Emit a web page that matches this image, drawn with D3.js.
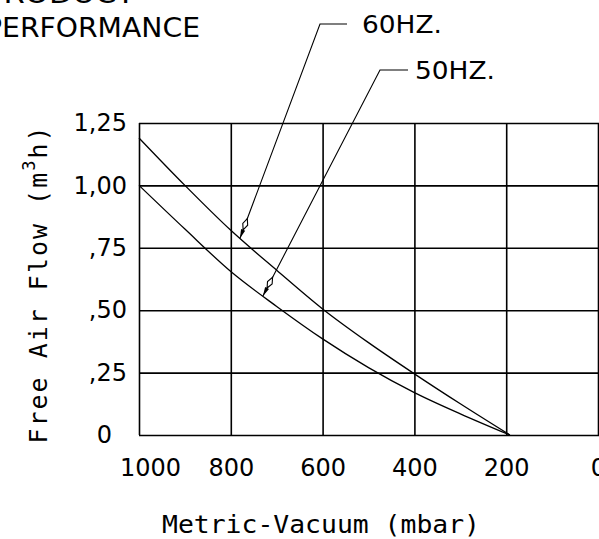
<!DOCTYPE html>
<html><head><meta charset="utf-8">
<script src="https://cdn.jsdelivr.net/npm/d3@7"></script>
<style>html,body{margin:0;padding:0;background:#fff;overflow:hidden}</style>
</head><body><svg id="c" width="599" height="539"></svg>
<script>
// ---- data ----
const xTicks = [1000, 800, 600, 400, 200, 0];
const xTickLabels = ["1000", "800", "600", "400", "200", "0"];
const yTicks = [0, 0.25, 0.5, 0.75, 1.0, 1.25];
const yTickLabels = ["0", ",25", ",50", ",75", "1,00", "1,25"];
const vacuum = [1000, 900, 800, 700, 600, 500, 400, 300, 192];
const flow60 = [1.19, 1.0, 0.82, 0.66, 0.505, 0.37, 0.245, 0.125, 0];
const flow50 = [1.0, 0.825, 0.655, 0.515, 0.385, 0.27, 0.17, 0.085, 0];
const seriesNames = ["60HZ.", "50HZ."];
const leaderAt = [780, 730]; // vacuum value each label points to

// ---- layout ----
const svg = d3.select("#c");
svg.append("rect").attr("width", 599).attr("height", 539).attr("fill", "#fff");
const L = 139, R = 598, T = 123, B = 435;
const x = d3.scaleLinear().domain([1000, 0]).range([L, R]);
const y = d3.scaleLinear().domain([0, 1.25]).range([B, T]);
const sans = "DejaVu Sans", mono = "DejaVu Sans Mono";

// title (partly cut off at top-left, as in the reference)
svg.append("text").attr("x", -15).attr("y", 3).attr("font-family", sans)
  .attr("font-size", 26).attr("textLength", 150).attr("lengthAdjust", "spacingAndGlyphs").text("PRODUCT");
svg.append("text").attr("x", -15).attr("y", 37).attr("font-family", sans)
  .attr("font-size", 26).attr("textLength", 215).attr("lengthAdjust", "spacingAndGlyphs").text("PERFORMANCE");

// grid via axes
const gx = svg.append("g").attr("transform", `translate(0,${B})`)
  .call(d3.axisBottom(x).tickValues(xTicks).tickSize(-(B - T)).tickPadding(24)
    .tickFormat((d, i) => xTickLabels[i]));
const gy = svg.append("g").attr("transform", `translate(${L},0)`)
  .call(d3.axisLeft(y).tickValues(yTicks).tickSize(-(R - L + 2)).tickPadding(12)
    .tickFormat((d, i) => yTickLabels[i]));
[gx, gy].forEach(g => {
  g.select(".domain").remove();
  g.selectAll("line").attr("stroke", "#000").attr("stroke-width", 1.6);
  g.selectAll("text").attr("fill", "#000").attr("font-family", sans).attr("font-size", 24);
});
gx.selectAll(".tick text").filter(d => d === 1000).attr("dx", 11);
gy.selectAll(".tick text").filter(d => d === 0).attr("dx", -15);

// curves
const line = d3.line().x(d => x(d[0])).y(d => y(d[1])).curve(d3.curveMonotoneX);
[flow60, flow50].forEach(s => {
  svg.append("path").datum(vacuum.map((v, i) => [v, s[i]]))
    .attr("d", line).attr("fill", "none").attr("stroke", "#000").attr("stroke-width", 1.3);
});

// leaders with labels
function interp(series, v) {
  for (let i = 0; i < vacuum.length - 1; i++) {
    if (v <= vacuum[i] && v >= vacuum[i + 1]) {
      const t = (vacuum[i] - v) / (vacuum[i] - vacuum[i + 1]);
      return series[i] + t * (series[i + 1] - series[i]);
    }
  }
  return 0;
}
const elbows = [[320, 24], [380, 70]];
const segLen = [27, 28];
const textGap = [15, 7];
[flow60, flow50].forEach((s, k) => {
  const tx = x(leaderAt[k]), ty = y(interp(s, leaderAt[k]));
  const [ex, ey] = elbows[k];
  svg.append("path")
    .attr("d", `M${tx},${ty}L${ex},${ey}L${ex + segLen[k]},${ey}`)
    .attr("fill", "none").attr("stroke", "#000").attr("stroke-width", 1.1);
  const dx = ex - tx, dy = ey - ty, len = Math.hypot(dx, dy);
  const ux = dx / len, uy = dy / len, px = -uy, py = ux;
  const P = (a, b) => [tx + ux * a + px * b, ty + uy * a + py * b];
  const pts1 = [P(0, 0), P(9, 2.2), P(9, -2.2)];
  svg.append("path").attr("d", "M" + pts1.join("L") + "Z").attr("fill", "#000");
  const pts2 = [P(9, 0), P(15, 2.6), P(21, 0), P(15, -2.6)];
  svg.append("path").attr("d", "M" + pts2.join("L") + "Z")
    .attr("fill", "#fff").attr("stroke", "#000").attr("stroke-width", 1.1);
  svg.append("text").attr("x", ex + segLen[k] + textGap[k]).attr("y", ey + 9)
    .attr("font-family", sans).attr("font-size", 25)
    .attr("textLength", 80).attr("lengthAdjust", "spacingAndGlyphs").text(seriesNames[k]);
});

// axis titles
svg.append("text").attr("x", (162 + 480) / 2).attr("y", 533).attr("text-anchor", "middle")
  .attr("font-family", mono).attr("font-size", 25)
  .attr("textLength", 318).attr("lengthAdjust", "spacingAndGlyphs").text("Metric-Vacuum (mbar)");
const yt = svg.append("text").attr("transform", "translate(47,284) rotate(-90)")
  .attr("text-anchor", "middle").attr("font-family", mono).attr("font-size", 25)
  .attr("letter-spacing", 2);
yt.append("tspan").text("Free Air Flow (m");
yt.append("tspan").attr("font-size", 17).attr("dy", -12).text("3");
yt.append("tspan").attr("dy", 12).text("h)");
</script></body></html>
